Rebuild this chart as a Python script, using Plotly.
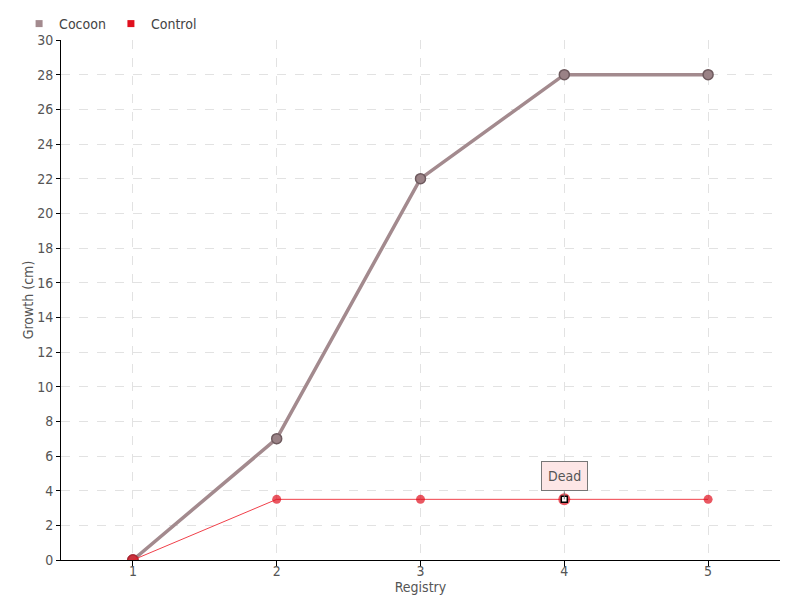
import plotly.graph_objects as go

registry = [1, 2, 3, 4, 5]
cocoon = [0, 7, 22, 28, 28]
control = [0, 3.5, 3.5, 3.5, 3.5]
y_ticks = list(range(0, 31, 2))
dead_index = 3
dead_label = "Dead"

FONT = "DejaVu Sans Condensed, Liberation Sans Narrow, sans-serif"
COCOON = "#a38a8e"
CONTROL = "#e0101e"

fig = go.Figure()
fig.add_trace(go.Scatter(
    x=registry, y=cocoon, name="Cocoon", mode="lines+markers", showlegend=False,
    legendgroup="cocoon",
    line=dict(color=COCOON, width=3.5),
    marker=dict(size=10, color="#9a8286", line=dict(color="#6e5a5e", width=1.5)),
))
fig.add_trace(go.Scatter(
    x=registry, y=control, name="Control", mode="lines+markers", showlegend=False,
    legendgroup="control",
    line=dict(color="#f0404a", width=1),
    marker=dict(size=[11, 9, 9, 12, 9], color=CONTROL,
                line=dict(color="#b01020", width=[1, 0, 0, 0, 0])),
))
# highlighted "Dead" point
fig.add_trace(go.Scatter(
    x=[registry[dead_index]], y=[control[dead_index]], mode="markers", showlegend=False,
    legendgroup="control", hoverinfo="skip",
    marker=dict(size=6, symbol="square", color="#ffffff", line=dict(color="#000000", width=1.5)),
))
# legend entries (small squares)
fig.add_trace(go.Scatter(x=[None], y=[None], name="Cocoon", mode="markers", legendgroup="cocoon",
                         marker=dict(symbol="square", size=7, color="#a38a8e")))
fig.add_trace(go.Scatter(x=[None], y=[None], name="Control", mode="markers", legendgroup="control",
                         marker=dict(symbol="square", size=7, color=CONTROL)))

fig.add_annotation(
    x=registry[dead_index], y=control[dead_index], text=dead_label, showarrow=True,
    arrowhead=0, arrowwidth=1, arrowcolor="#777777", ax=0, ay=-8, yanchor="bottom",
    bgcolor="#fde6e6", bordercolor="#777777", borderwidth=1, borderpad=6,
    font=dict(family=FONT, size=14, color="#555555"),
)

# page body adds an 8px offset, so the figure is 792x592 with shifted margins
fig.update_layout(
    width=792, height=592,
    margin=dict(l=53, r=20, t=32, b=40, autoexpand=False),
    plot_bgcolor="white", paper_bgcolor="white",
    font=dict(family=FONT, size=14, color="#555555"),
    showlegend=True,
    legend=dict(orientation="h", xref="container", yref="container", x=0.014, y=1.0,
                xanchor="left", yanchor="top", bgcolor="rgba(0,0,0,0)",
                font=dict(family=FONT, size=14, color="#444444"),
                itemwidth=30, tracegroupgap=0),
    xaxis=dict(
        range=[0.5, 5.5], tickvals=registry, ticktext=[str(v) for v in registry],
        showgrid=True, gridcolor="#e2e2e2", griddash="dash", gridwidth=1,
        showline=True, linecolor="#000000", linewidth=1,
        ticks="outside", ticklen=6, tickcolor="#000000", ticklabelstandoff=-8,
        zeroline=False, automargin=False,
        title=dict(text="Registry", standoff=0, font=dict(family=FONT, size=14, color="#555555")),
    ),
    yaxis=dict(
        range=[0, 30], tickvals=y_ticks,
        showgrid=True, gridcolor="#e2e2e2", griddash="dash", gridwidth=1,
        showline=True, linecolor="#000000", linewidth=1,
        ticks="outside", ticklen=4, tickcolor="#000000",
        zeroline=False, automargin=False,
        title=dict(text="Growth (cm)", standoff=0, font=dict(family=FONT, size=14, color="#555555")),
    ),
)

fig.write_html("out.html")
